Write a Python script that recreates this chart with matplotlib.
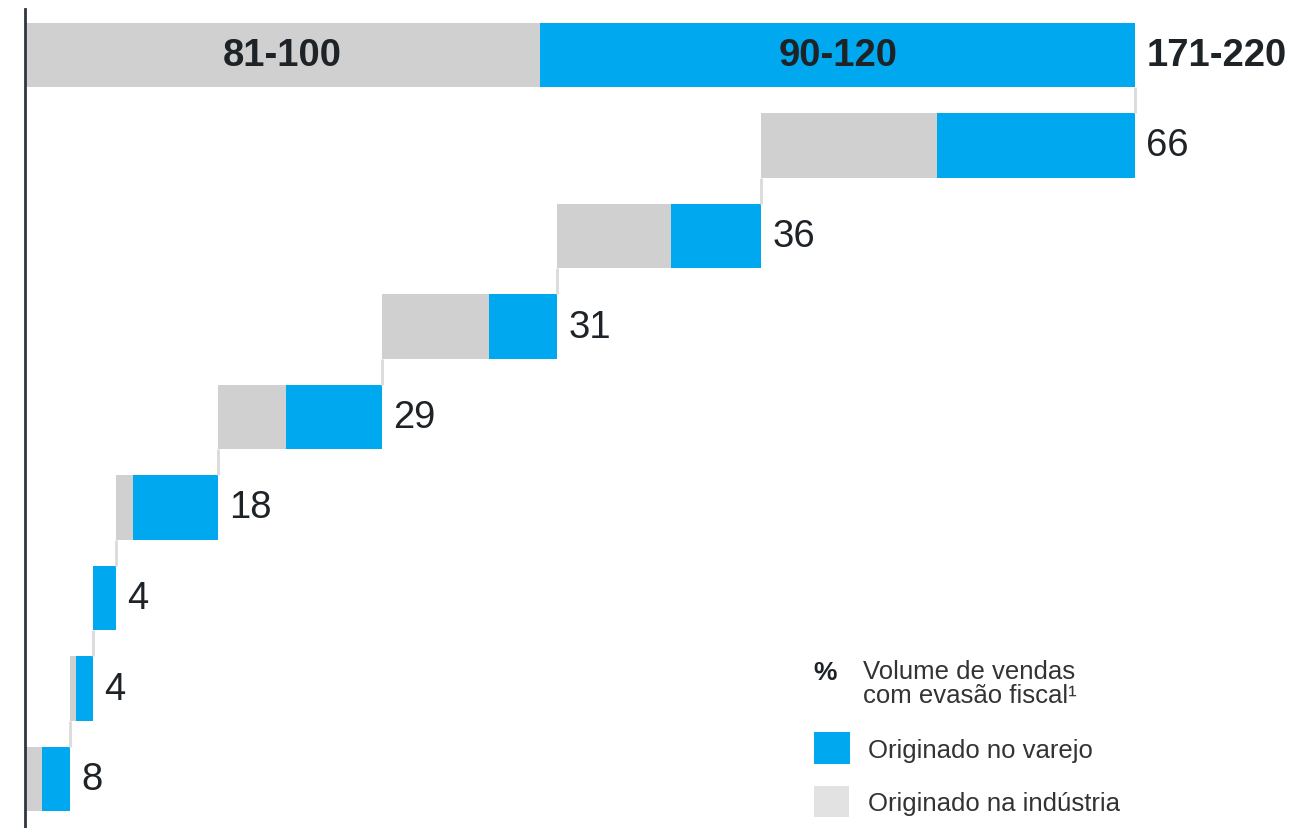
import numpy as np
import matplotlib
matplotlib.use('Agg')
import matplotlib.pyplot as plt
from matplotlib.patches import Rectangle

plt.rcParams['font.family'] = ['Liberation Sans', 'DejaVu Sans']

# Data (bottom step first, then going up)
step_labels = ["8", "4", "4", "18", "29", "31", "36", "66"]
step_total = [8, 4, 4, 18, 29, 31, 36, 66]
step_industria = [3, 1, 0, 3, 12, 19, 20, 31]
step_varejo = [5, 3, 4, 15, 17, 12, 16, 35]

# Top (total) bar
total_industria = 91
total_varejo = 105
total_labels = ["81-100", "90-120", "171-220"]

legend_title = "Volume de vendas\ncom evasão fiscal¹"
legend_items = ["Originado no varejo", "Originado na indústria"]

BLUE = "#00a8f0"
GRAY = "#d0d0d0"
LEG_GRAY = "#e2e2e2"
CONN = "#dadada"
TXT = "#1e2328"

W, H = 1307, 829
fig = plt.figure(figsize=(W / 100, H / 100), dpi=100)
ax = fig.add_axes([0, 0, 1, 1])
ax.axis("off")

px = 1110 / 196  # pixels per unit
ax.set_xlim(-25 / px, (W - 25) / px)
row_h = 90.5
ax.set_ylim((H - 56) / row_h, -56 / row_h)

bar_h = 0.71
n = len(step_total)
FS = 27.5

# top total bar at row 0
ax.barh(0, total_industria, height=bar_h, color=GRAY)
ax.barh(0, total_varejo, left=total_industria, height=bar_h, color=BLUE)
ax.text(total_industria / 2, 0, total_labels[0], ha="center", va="center",
        fontsize=FS, fontweight="bold", color=TXT)
ax.text(total_industria + total_varejo / 2, 0, total_labels[1], ha="center", va="center",
        fontsize=FS, fontweight="bold", color=TXT)
top_end = total_industria + total_varejo
ax.text(top_end + 2, 0, total_labels[2], ha="left", va="center",
        fontsize=FS, fontweight="bold", color=TXT)

# waterfall steps
starts = np.concatenate([[0], np.cumsum(step_total)[:-1]])
rows = [n - i for i in range(n)]  # bottom step on last row
for i in range(n):
    r = rows[i]
    s = starts[i]
    ax.barh(r, step_industria[i], left=s, height=bar_h, color=GRAY)
    ax.barh(r, step_varejo[i], left=s + step_industria[i], height=bar_h, color=BLUE)
    ax.text(s + step_total[i] + 2, r, step_labels[i], ha="left", va="center",
            fontsize=FS, color=TXT)
    # connector to the bar above
    above_x = s + step_total[i]
    ax.plot([above_x, above_x], [r - 1 + bar_h / 2, r - bar_h / 2],
            color=CONN, lw=2, solid_capstyle="butt")

# axis line
ax.axvline(0, ymin=0, ymax=1 - 10 / H, color="#2f3640", lw=2)

# legend (figure pixel positions)
def fx(x):
    return x / W

def fy(y):
    return 1 - y / H

ax.text(fx(813), fy(673), "%", transform=ax.transAxes, ha="left", va="center",
        fontsize=19, fontweight="bold", color=TXT)
ax.text(fx(863), fy(684), legend_title, transform=ax.transAxes, ha="left", va="center",
        fontsize=18.5, color="#333333", linespacing=0.95)
ax.add_patch(Rectangle((fx(814), fy(765)), fx(36), 32 / H, transform=ax.transAxes,
                       color=BLUE, lw=0))
ax.add_patch(Rectangle((fx(814), fy(818)), fx(35), 31 / H, transform=ax.transAxes,
                       color=LEG_GRAY, lw=0))
ax.text(fx(868), fy(751), legend_items[0], transform=ax.transAxes, ha="left", va="center",
        fontsize=18.5, color="#333333")
ax.text(fx(868), fy(804), legend_items[1], transform=ax.transAxes, ha="left", va="center",
        fontsize=18.5, color="#333333")

fig.savefig("out.png", dpi=100)
